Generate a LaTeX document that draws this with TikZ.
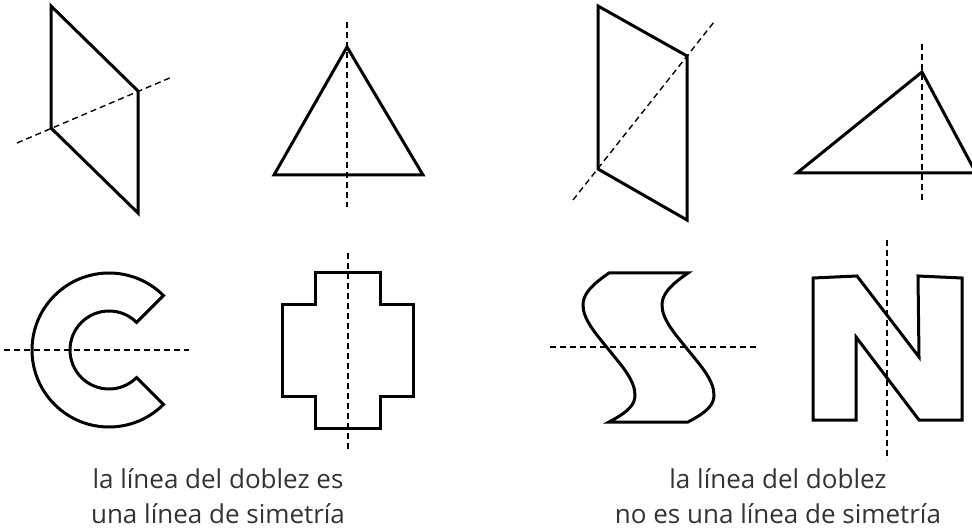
\documentclass[tikz,border=0pt]{standalone}
\usepackage{fontspec}
\setmainfont{Open Sans}
\usetikzlibrary{positioning, calc}

\begin{document}
\begin{tikzpicture}[x=1pt, y=-1pt,
    outline/.style={draw, line width=3pt, line join=miter},
    fold/.style={draw, line width=1.4pt, dash pattern=on 6pt off 4pt},
    caption/.style={font=\fontsize{26}{35}\selectfont, text=black!80, anchor=base, inner sep=0pt}]
    \useasboundingbox (0,0) rectangle (972,529);

    % parallelogram, fold on the diagonal
    \draw[outline] (51,6) -- (138,91) -- (138,213) -- (51,128) -- cycle;
    \draw[fold] (17,143) -- (172,77);

    % isosceles triangle
    \draw[outline] (347,47) -- (423,175) -- (274,175) -- cycle;
    \draw[fold] (347,22) -- (347,207);

    % parallelogram, fold not a symmetry line
    \draw[outline] (598,6) -- (687,56) -- (687,220) -- (598,169) -- cycle;
    \draw[fold] (573,200) -- (714,22);

    % scalene triangle
    \draw[outline] (922,72) -- (976,173) -- (797,173) -- cycle;
    \draw[fold] (922,44) -- (922,203);

    % letter C
    \coordinate (cc) at (109,350);
    \draw[outline] ($(cc)+(-45:77)$) arc[start angle=-45, end angle=-315, radius=77]
        -- ($(cc)+(45:39)$) arc[start angle=45, end angle=315, radius=39] -- cycle;
    \draw[fold] (4,350) -- (189,350);

    % cross
    \draw[outline] (315,273) -- (380,273) -- (380,305) -- (413,305) -- (413,396)
        -- (380,396) -- (380,428) -- (315,428) -- (315,396) -- (282,396)
        -- (282,305) -- (315,305) -- cycle;
    \draw[fold] (348,253) -- (348,450);

    % letter S
    \draw[outline] (609,273) .. controls (590,286) and (583,295) .. (583,305)
        .. controls (583,320) and (597,335) .. (609,350)
        .. controls (621,365) and (635,380) .. (635,395)
        .. controls (635,405) and (628,412) .. (609,422)
        -- (688,422)
        .. controls (707,412) and (714,405) .. (714,395)
        .. controls (714,380) and (700,365) .. (688,350)
        .. controls (676,335) and (662,320) .. (662,305)
        .. controls (662,295) and (669,286) .. (688,273) -- cycle;
    \draw[fold] (550,347) -- (757,347);

    % letter N
    \draw[outline] (813,278) -- (857,276) -- (919,357) -- (918,276) -- (962,278)
        -- (962,420) -- (919,420) -- (856,337) -- (856,420) -- (813,420) -- cycle;
    \draw[fold] (887,240) -- (887,460);

    % captions
    \node[caption] (yes1) at (218,488) {la línea del doblez es};
    \node[caption] (yes2) at (218,523) {una línea de simetría};
    \node[caption] (no1) at (778,488) {la línea del doblez};
    \node[caption] (no2) at (778,523) {no es una línea de simetría};
\end{tikzpicture}
\end{document}
